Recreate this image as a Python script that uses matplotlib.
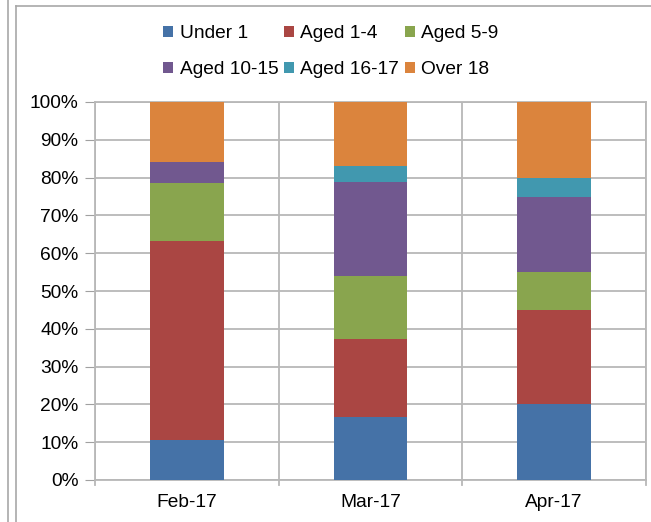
import matplotlib
matplotlib.use("Agg")
import matplotlib.pyplot as plt
from matplotlib.patches import Patch
from matplotlib.lines import Line2D
import numpy as np

plt.rcParams['font.family'] = ['Liberation Sans', 'DejaVu Sans']

categories = ["Feb-17", "Mar-17", "Apr-17"]
series_names = ["Under 1", "Aged 1-4", "Aged 5-9", "Aged 10-15", "Aged 16-17", "Over 18"]
under_1 = [10.6, 16.6, 20.0]
aged_1_4 = [52.6, 20.7, 25.0]
aged_5_9 = [15.5, 16.7, 10.0]
aged_10_15 = [5.3, 24.8, 20.0]
aged_16_17 = [0.0, 4.4, 5.0]
over_18 = [16.0, 16.8, 20.0]
yticks = [0, 10, 20, 30, 40, 50, 60, 70, 80, 90, 100]

series = [under_1, aged_1_4, aged_5_9, aged_10_15, aged_16_17, over_18]
colors = ["#4572A7", "#AA4643", "#89A54E", "#71588F", "#4198AF", "#DB843D"]

W, H = 651, 522
fig = plt.figure(figsize=(W / 100, H / 100), dpi=100)
ax = fig.add_axes([95 / W, 1 - 480 / H, (646 - 95) / W, (480 - 102) / H])

x = np.arange(len(categories))
bottom = np.zeros(len(categories))
for vals, col, name in zip(series, colors, series_names):
    v = np.array(vals, dtype=float)
    ax.bar(x, v, 0.4, bottom=bottom, color=col, label=name, zorder=3, linewidth=0)
    bottom += v

ax.set_xlim(-0.5, len(categories) - 0.5)
ax.set_ylim(0, 100)
ax.set_yticks(yticks)
ax.set_yticklabels([f"{t}%" for t in yticks])
ax.set_xticks(x)
ax.set_xticklabels(categories)
ax.tick_params(axis='x', length=0, pad=10, labelsize=13.8)
ax.tick_params(axis='y', length=7, color="#A0A0A0", pad=5, labelsize=13.8)

grid_col = "#B8B8B8"
for t in yticks:
    ax.axhline(t, color=grid_col, lw=1.3, zorder=1)
for b in np.arange(-0.5, len(categories) + 0.5, 1.0):
    ax.axvline(b, color=grid_col, lw=1.3, zorder=1)
    ax.plot([b, b], [0, -1.4], color=grid_col, lw=1.3, clip_on=False, zorder=1)
for s in ax.spines.values():
    s.set_color(grid_col)
    s.set_linewidth(1.3)

# legend filled row-wise (3 per row)
order = [0, 3, 1, 4, 2, 5]
handles = [Patch(facecolor=colors[i], edgecolor='none') for i in order]
labels = [series_names[i] for i in order]
fig.legend(handles, labels, ncol=3, loc='center', bbox_to_anchor=(331 / W, 1 - 51.5 / H),
           frameon=False, fontsize=13.8, handlelength=0.5, handleheight=0.5,
           handletextpad=0.35, columnspacing=0.3, labelspacing=1.0)

# outer frame lines
fc = "#A8A8A8"
fig.add_artist(Line2D([8 / W, 8 / W], [0, 1], color=fc, lw=1.2, transform=fig.transFigure))
fig.add_artist(Line2D([15.5 / W, 15.5 / W], [0, 1 - 6 / H], color=fc, lw=1.2, transform=fig.transFigure))
fig.add_artist(Line2D([15.5 / W, 1], [1 - 6 / H, 1 - 6 / H], color=fc, lw=1.2, transform=fig.transFigure))

fig.savefig("out.png", dpi=100)
